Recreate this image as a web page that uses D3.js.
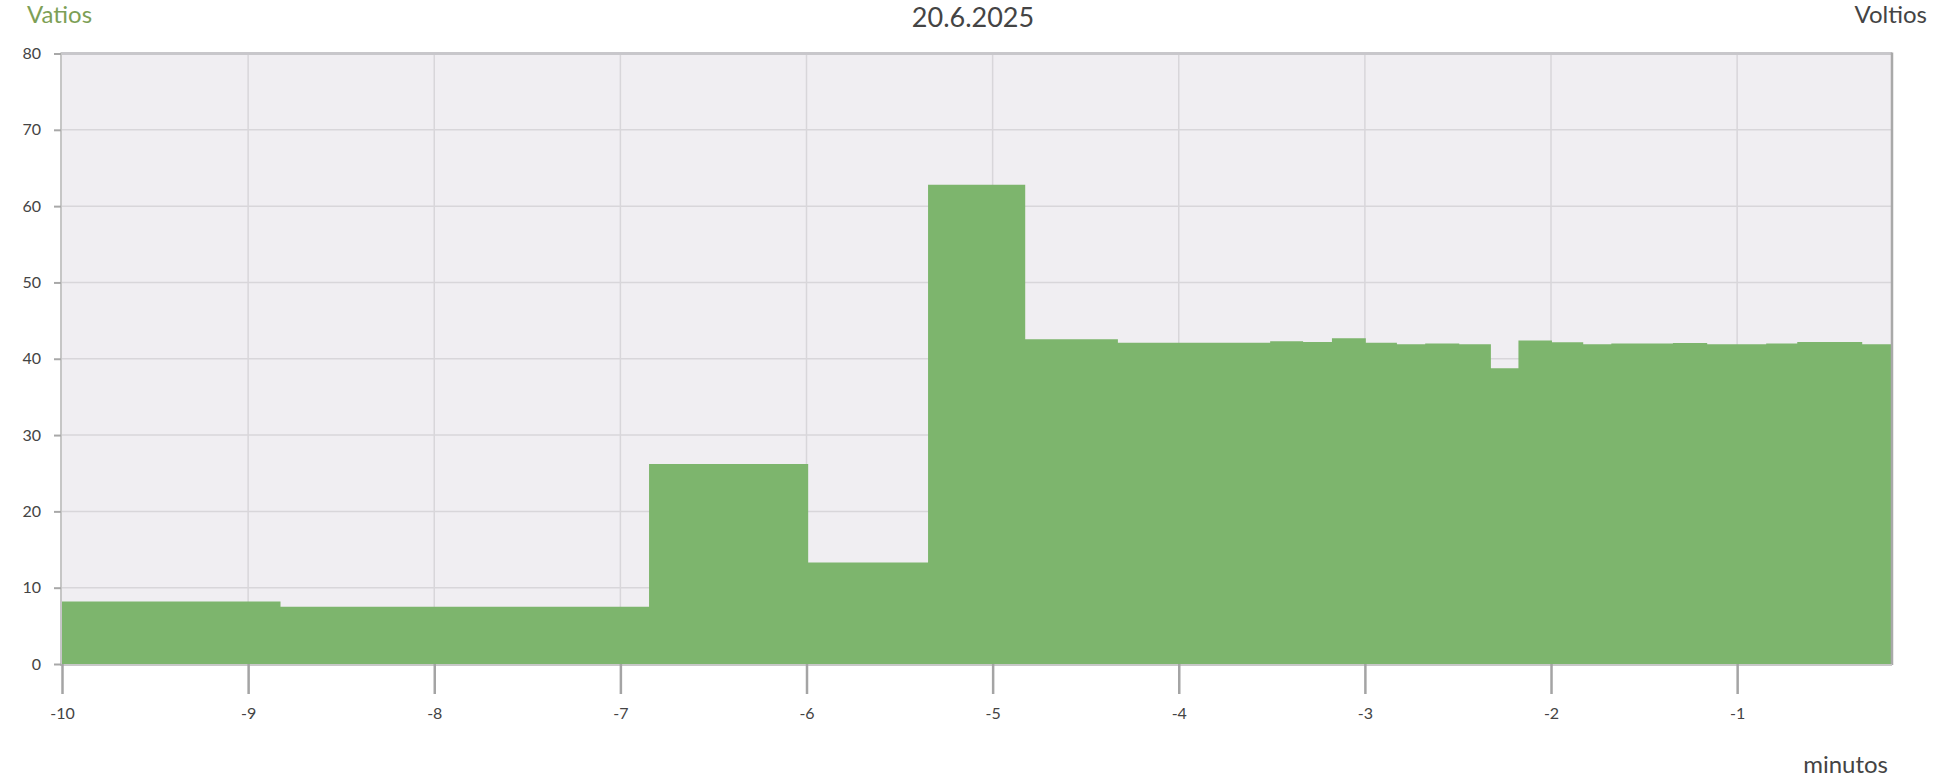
<!DOCTYPE html>
<html>
<head>
<meta charset="utf-8">
<script src="https://cdn.jsdelivr.net/npm/d3@7"></script>
<style>
  html, body { margin: 0; padding: 0; background: #ffffff; }
  svg { display: block; font-family: Lato, "Open Sans", sans-serif; }
</style>
</head>
<body>
<svg id="chart" width="1946" height="784"></svg>
<script>
// ---- data (minutes relative to now, watts) ----
const stepStarts = [-10, -8.826, -6.846, -5.991, -5.347, -4.825, -4.327, -3.509, -3.332, -3.177,
  -2.995, -2.828, -2.676, -2.493, -2.323, -2.175, -1.995, -1.827, -1.676, -1.345,
  -1.161, -0.844, -0.677, -0.328];
const stepEnd = -0.168;
const watts = [8.2, 7.5, 26.2, 13.3, 62.8, 42.55, 42.1, 42.3, 42.2, 42.7,
  42.1, 41.9, 42.0, 41.9, 38.75, 42.4, 42.15, 41.9, 42.0, 42.05,
  41.9, 42.0, 42.2, 41.9];
const xTicks = [-10, -9, -8, -7, -6, -5, -4, -3, -2, -1];
const yTicks = [0, 10, 20, 30, 40, 50, 60, 70, 80];
const titleText = "20.6.2025";
const leftAxisTitle = "Vatios";
const rightAxisTitle = "Voltios";
const xAxisTitle = "minutos";

// ---- layout ----
const L = 62, R = 1892, T = 53.5, B = 664;
const svg = d3.select("#chart");
const x = d3.scaleLinear().domain([-10, stepEnd]).range([L, R]);
const y = d3.scaleLinear().domain([0, 80]).range([B, T]);

// plot background
svg.append("rect").attr("x", L).attr("y", T).attr("width", R - L).attr("height", B - T)
  .attr("fill", "#f0eef2");

// grid
const grid = svg.append("g");
grid.selectAll("line.h").data(yTicks.filter(d => d > 0 && d < 80)).join("line")
  .attr("x1", L).attr("x2", R).attr("y1", d => y(d)).attr("y2", d => y(d))
  .attr("stroke", "#d8d6da").attr("stroke-width", 1.5);
grid.selectAll("line.v").data(xTicks.filter(d => d > -10)).join("line")
  .attr("x1", d => x(d)).attr("x2", d => x(d)).attr("y1", T).attr("y2", B)
  .attr("stroke", "#d8d6da").attr("stroke-width", 1.5);

// series
const pts = stepStarts.map((s, i) => ({ t: s, v: watts[i] }));
pts.push({ t: stepEnd, v: watts[watts.length - 1] });
const area = d3.area().curve(d3.curveStepAfter)
  .x(d => x(d.t)).y0(y(0)).y1(d => y(d.v));
svg.append("path").datum(pts).attr("d", area).attr("fill", "#7db56d");

// top border
svg.append("line").attr("x1", L - 1).attr("x2", R).attr("y1", T).attr("y2", T)
  .attr("stroke", "#c8c7cb").attr("stroke-width", 3);
// right border
svg.append("line").attr("x1", R).attr("x2", R).attr("y1", T - 1).attr("y2", B + 1)
  .attr("stroke", "#a9a9a9").attr("stroke-width", 2.5);
// left axis line
svg.append("line").attr("x1", L - 1).attr("x2", L - 1).attr("y1", T - 1).attr("y2", B + 1)
  .attr("stroke", "#c6c6c6").attr("stroke-width", 2);
// bottom axis line
svg.append("line").attr("x1", L - 2).attr("x2", R).attr("y1", B + 1).attr("y2", B + 1)
  .attr("stroke", "#c8c8c8").attr("stroke-width", 2);

// y axis ticks + labels
const yAxis = d3.axisLeft(y).tickValues(yTicks).tickSize(7).tickPadding(13).tickFormat(d => String(d));
const gy = svg.append("g").attr("transform", `translate(${L - 1},0)`).call(yAxis);
gy.select(".domain").remove();
gy.selectAll(".tick line").attr("stroke", "#a8a8a8").attr("stroke-width", 2);
gy.selectAll(".tick text").attr("fill", "#444").attr("font-size", 16)
  .attr("font-family", "Lato, 'Open Sans', sans-serif");

// x axis ticks + labels
const xAxis = d3.axisBottom(x).tickValues(xTicks).tickSize(30).tickPadding(14).tickFormat(d => String(d));
const gx = svg.append("g").attr("transform", `translate(0,${B})`).call(xAxis);
gx.select(".domain").remove();
gx.selectAll(".tick line").attr("stroke", "#a4a4a4").attr("stroke-width", 2.5);
gx.selectAll(".tick text").attr("fill", "#444").attr("font-size", 16)
  .attr("font-family", "Lato, 'Open Sans', sans-serif");

// titles
svg.append("text").attr("x", 973).attr("y", 27).attr("text-anchor", "middle")
  .attr("font-size", 27).attr("fill", "#444").text(titleText);
svg.append("text").attr("x", 27).attr("y", 23).attr("font-size", 24)
  .attr("fill", "#7d9f56").text(leftAxisTitle);
svg.append("text").attr("x", 1927).attr("y", 23).attr("text-anchor", "end").attr("font-size", 24)
  .attr("fill", "#444").text(rightAxisTitle);
svg.append("text").attr("x", 1888).attr("y", 773).attr("text-anchor", "end").attr("font-size", 24)
  .attr("fill", "#444").text(xAxisTitle);
</script>
</body>
</html>
